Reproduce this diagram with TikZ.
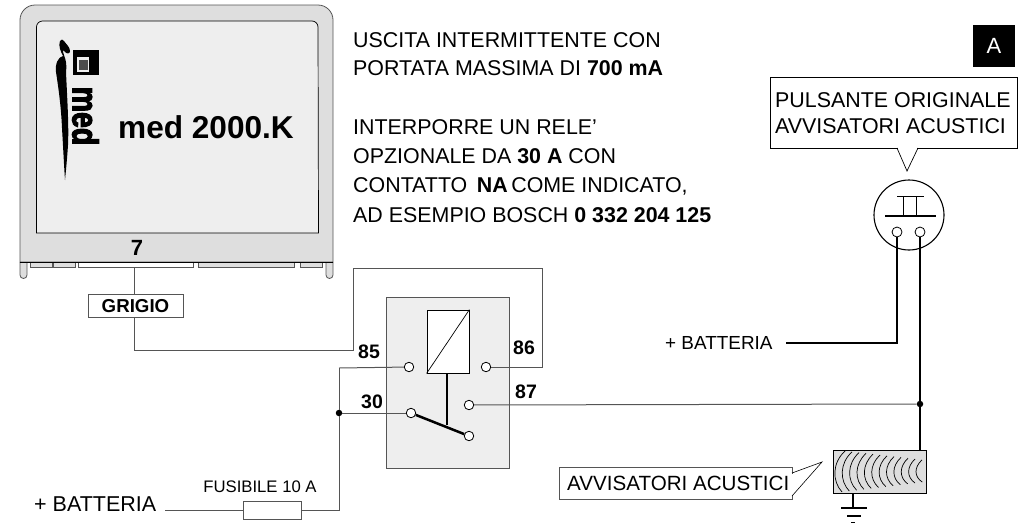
\documentclass[tikz,border=0pt]{standalone}
\usepackage{fontspec}
\setmainfont{Liberation Sans}
\newfontfamily\logofont[FakeBold=3.5]{Liberation Sans Bold}
\usetikzlibrary{calc}
\definecolor{casegray}{HTML}{DEDEDE}
\definecolor{panelgray}{HTML}{EEEEEE}
\definecolor{wiregray}{HTML}{555555}
\newcommand{\fsize}[1]{\fontsize{#1}{#1}\selectfont}
\tikzset{
	wire/.style={draw=wiregray,line width=1pt},
	blackwire/.style={draw=black,line width=1.4pt},
	term/.style={circle,draw=black,fill=white,line width=0.8pt,inner sep=0pt,minimum size=9.5pt},
	joint/.style={circle,fill=black,inner sep=0pt,minimum size=6.5pt},
	pinlabel/.style={inner sep=0pt,font=\fsize{19.5}\bfseries},
	textblock/.style={inner sep=0pt,anchor=base west,align=left,font=\fsize{21.4}}
}

\begin{document}
\begin{tikzpicture}[x=1pt,y=-1pt]
		\useasboundingbox (0,0) rectangle (1033,523);

		% centralina
		\draw [fill=casegray,draw=wiregray,line width=0.8pt] (20,262) -- (20,20)
			arc [start angle=180,end angle=270,radius=15] -- (318,5)
			arc [start angle=270,end angle=360,radius=15] -- (333,262) -- cycle;
		\draw [fill=panelgray,draw=black,line width=0.7pt] (36.5,233) -- (36.5,27)
			arc [start angle=180,end angle=270,radius=6] -- (312,21)
			arc [start angle=270,end angle=360,radius=6] -- (318.5,233) -- cycle;
		\foreach \xa/\xb in {30/52,53/75,198/294,300/322}
			\draw [fill=casegray,draw=wiregray,line width=0.8pt] (\xa,262) -- (\xa,267) -- (\xb,267) -- (\xb,262);
		\draw [fill=white,draw=wiregray,line width=0.8pt] (78,262) -- (78,267) -- (193,267) -- (193,262);
		\foreach \xa in {20,326}
			\draw [fill=casegray,draw=wiregray,line width=0.8pt] (\xa,262) -- (\xa,275)
				arc [start angle=180,end angle=0,radius=3.5] -- (\xa+7,262);
		\draw [draw=black,line width=0.8pt] (20,262) -- (333,262);

		% logo
		\fill (73,50) rectangle (99,75);
		\fill [panelgray] (77,57) rectangle (89,72);
		\fill [black!70] (79,60) rectangle (88,70);
		\node [inner sep=0pt,rotate=-90] (logomed) at (85.5,116)
			{\scalebox{0.95}[1.2]{\fsize{30}\logofont med}};
		\fill (65,180) .. controls (64,165) and (63,145) .. (62,128)
			.. controls (61,105) and (58,85) .. (56,72)
			.. controls (55,64) and (58,57) .. (63,56)
			.. controls (61,52) and (58,46) .. (60,41)
			.. controls (61,39) and (63,39) .. (64,41)
			.. controls (66,44) and (70,47) .. (70,51)
			.. controls (70,54) and (67,54) .. (65,52)
			.. controls (63,49) and (62,50) .. (64,55)
			.. controls (66,60) and (67,66) .. (66,72)
			.. controls (67,95) and (69,125) .. (68,145)
			.. controls (67,160) and (66,170) .. (65,180) -- cycle;

		\node [inner sep=0pt,font=\fsize{31.6}\bfseries] (devname) at (206,127) {med 2000.K};
		\node [inner sep=0pt,font=\fsize{22}\bfseries] (pin7) at (137,248) {7};

		% testo
		\node [textblock] (note1) at (353,47) {USCITA INTERMITTENTE CON};
		\node [textblock] (note2) at (353,75) {PORTATA MASSIMA DI \textbf{700 mA}};
		\node [textblock] (note3) at (353,134) {INTERPORRE UN RELE'};
		\node [textblock] (note4) at (353,163) {OPZIONALE DA \textbf{30 A} CON};
		\node [textblock] (note5) at (353,192) {CONTATTO \,\textbf{NA}\,COME INDICATO,};
		\node [textblock] (note6) at (353,222) {AD ESEMPIO BOSCH \textbf{0 332 204 125}};

		\node [fill=black,text=white,minimum width=42pt,minimum height=42pt,inner sep=0pt,font=\fsize{22}] (tagA) at (994,46) {A};

		% cavo grigio
		\coordinate (pin7out) at (134,267);
		\node [draw=wiregray,fill=white,line width=0.8pt,minimum width=95pt,minimum height=23pt,inner sep=0pt,font=\fsize{18.7}\bfseries] (grigio) at (135.5,306) {GRIGIO};
		\coordinate (grigioin) at (134,295);
		\coordinate (grigioout) at (134,318);
		\draw [wire] (pin7out) -- (grigioin);

		% rele'
		\node [draw=wiregray,fill=panelgray,line width=1pt,minimum width=123pt,minimum height=171pt,inner sep=0pt] (relay) at (447.5,382.5) {};
		\node [draw=black,fill=white,line width=0.8pt,minimum width=42pt,minimum height=63pt,inner sep=0pt] (coil) at (448,341.5) {};
		\draw [line width=0.7pt] (coil.south west) -- (coil.north east);
		\coordinate (stem) at (447,425);
		\draw [line width=1.3pt] (447,373) -- (stem);

		\node [term] (t85) at (409,367) {};
		\node [term] (t86) at (486,367) {};
		\node [term] (t87) at (469,405) {};
		\node [term] (t30) at (411,413) {};
		\node [term] (tnc) at (469,436) {};
		\draw [line width=2.5pt] (t30) -- (tnc);

		\node [pinlabel] (l85) at (369,352) {85};
		\node [pinlabel] (l86) at (524,348) {86};
		\node [pinlabel] (l87) at (526,392) {87};
		\node [pinlabel] (l30) at (372,402) {30};

		\coordinate (loopa) at (353,350);
		\coordinate (loopb) at (542,268);
		\draw [wire] (grigioout) |- (loopa) |- (loopb) |- (t86);

		\node [joint] (j30) at (339,413) {};
		\coordinate (j85) at (339,368);
		\draw [wire] (j85) -- (t85);
		\draw [wire] (j30) -- (t30);

		% fusibile
		\node [draw=wiregray,fill=white,line width=0.8pt,minimum width=58pt,minimum height=18pt,inner sep=0pt] (fuse) at (272,510) {};
		\node [inner sep=0pt,font=\fsize{16.7}] (fuselabel) at (260,487) {FUSIBILE 10 A};
		\node [inner sep=0pt,anchor=base west,font=\fsize{21.5}] (batt1) at (34,511) {+ BATTERIA};
		\coordinate (batt1out) at (165,510);
		\coordinate (fusecorner) at (339,510);
		\draw [wire] (batt1out) -- (fuse);
		\draw [wire] (fuse.east) -- (fusecorner) -- (j30) -- (j85);

		% pulsante
		\node [draw=black,fill=white,line width=0.8pt,inner sep=0pt,minimum width=247pt,minimum height=71pt] (callpuls) at (893.5,112.5) {};
		\node [inner sep=0pt,anchor=base west,font=\fsize{21.4}] (puls1) at (775,107) {PULSANTE ORIGINALE};
		\node [inner sep=0pt,anchor=base west,font=\fsize{21.4}] (puls2) at (775,133) {AVVISATORI ACUSTICI};
		\coordinate (tippuls) at (907,171);
		\draw [line width=0.7pt] (897,148) -- (tippuls) -- (918,148);
		\draw [white,line width=1.2pt] (898,148) -- (917,148);

		\node [circle,draw=black,fill=white,line width=1.1pt,minimum size=70pt,inner sep=0pt] (button) at (909,215) {};
		\draw [line width=2pt] (885,216) -- (936,216);
		\draw [line width=0.7pt] (903,216) -- (903,196);
		\draw [line width=0.7pt] (916,216) -- (916,196);
		\draw [line width=0.7pt] (897,196) -- (924,196);
		\node [term,minimum size=10pt] (ba) at (897,232) {};
		\node [term,minimum size=10pt] (bb) at (920,232) {};

		% avvisatori
		\node [draw=black,fill=casegray,line width=1pt,minimum width=93pt,minimum height=43pt,inner sep=0pt] (horn) at (879.5,471.5) {};
		\begin{scope}
			\clip (834,451) rectangle (925,492);
			\foreach \k in {0,...,11}
				\draw [line width=0.7pt] ({845+\k*7},{451+\k*0.8}) .. controls ({832+\k*7.45},{463+\k*0.4}) and ({832+\k*7.45},{481-\k*0.4}) .. ({842+\k*7.3},{492-\k*0.9});
		\end{scope}
		\node [draw=wiregray,fill=white,line width=0.8pt,minimum width=233pt,minimum height=32pt,inner sep=0pt] (callavv) at (675.5,483) {};
		\node [inner sep=0pt,anchor=base west,font=\fsize{20.6}] (avvtext) at (567,490) {AVVISATORI ACUSTICI};
		\coordinate (tipavv) at (822,462);
		\draw [white,line width=1.2pt] (792,474) -- (792,495);
		\draw [line width=0.6pt] (792,473) -- (tipavv) -- (792,496);

		\coordinate (gnd) at (853,508);
		\draw [line width=1.3pt] (853,493) -- (gnd);
		\draw [line width=1.3pt] (841,508) -- (867,508);
		\draw [line width=1.3pt] (847,516) -- (861,516);
		\draw [line width=1pt] (851,522) -- (855,522);

		% cablaggio a destra
		\node [joint] (j87) at (920,404) {};
		\node [inner sep=0pt,anchor=base west,font=\fsize{18.9}] (batt2) at (665,349) {+ BATTERIA};
		\coordinate (batt2out) at (786,343);
		\draw [blackwire] (ba) |- (batt2out);
		\draw [blackwire] (bb) -- (j87) -- (j87 |- horn.north);
		\draw [wire] (t87) -- (j87);
	\end{tikzpicture}
\end{document}
